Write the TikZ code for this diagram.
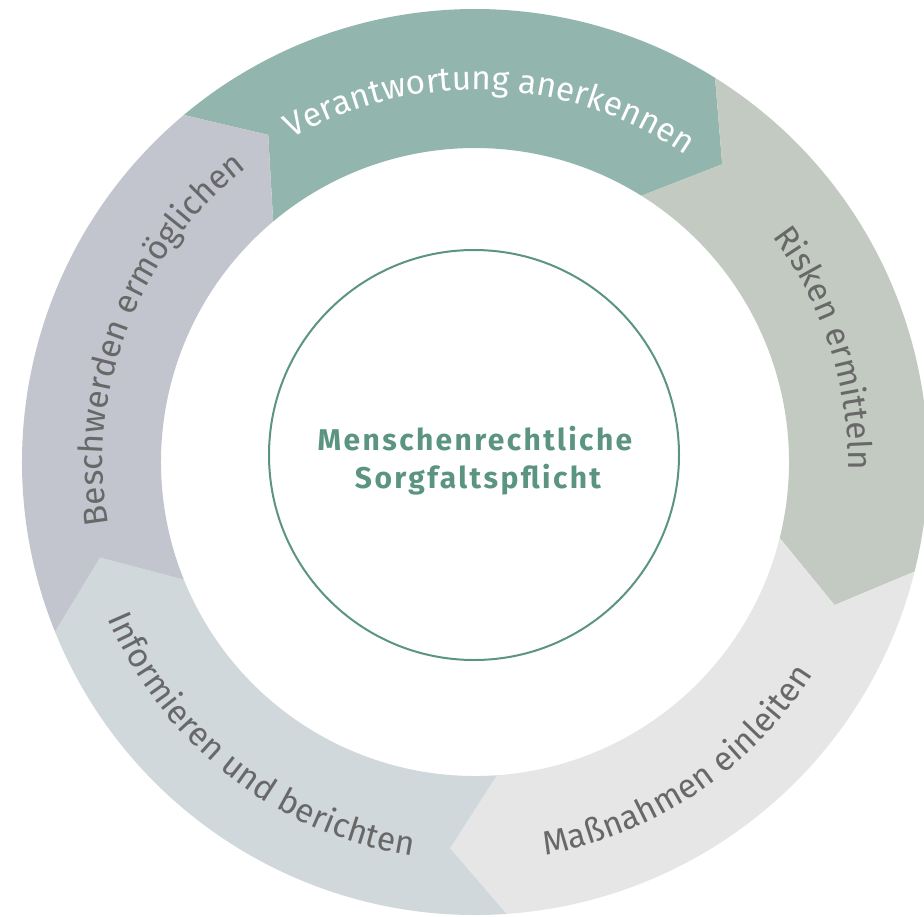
\documentclass[tikz,border=0pt]{standalone}
\usepackage{fontspec}
\setmainfont{Fira Sans}
\newfontfamily\titlefont{Fira Sans}[LetterSpace=8]
\usetikzlibrary{decorations.text}
\definecolor{segA}{HTML}{92B5AD}
\definecolor{segB}{HTML}{C3CAC2}
\definecolor{segC}{HTML}{E6E6E6}
\definecolor{segD}{HTML}{D0D8DC}
\definecolor{segE}{HTML}{C2C5CD}
\definecolor{tealc}{HTML}{5C9482}
\definecolor{ringtxt}{HTML}{686868}
\tikzset{
  ringlabel/.style 2 args={decorate, decoration={text along path, text align=center,
     text={|\fontsize{33.5}{40}\selectfont\color{#1}|#2}}},
  titletext/.style={text=tealc, font=\titlefont\bfseries\fontsize{30}{36}\selectfont, inner sep=0pt, anchor=base}
}
\begin{document}
\begin{tikzpicture}[x=1pt,y=1pt]
\useasboundingbox (0,0) rectangle (924,-916);
\clip (0,0) rectangle (924,-916);
\begin{scope}[shift={(475,-462)}]
  \foreach \a/\col in {130/segA,58/segB,-14/segC,-86/segD,-158/segE}
    \fill[\col] (\a:453) arc[start angle=\a, end angle=\a-72, radius=453]
      -- (\a-79.7:387) -- (\a-72:314)
      arc[start angle=\a-72, end angle=\a, radius=314]
      -- (\a-7.7:387) -- cycle;
  \path[ringlabel={white}{Verantwortung anerkennen}] (132.5:372) arc[start angle=132.5, end angle=42.5, radius=372];
  \path[ringlabel={ringtxt}{Risken ermitteln}] (63:373) arc[start angle=63, end angle=-27, radius=373];
  \path[ringlabel={ringtxt}{Maßnahmen einleiten}] (-101:399) arc[start angle=-101, end angle=-11, radius=399];
  \path[ringlabel={ringtxt}{Informieren und berichten}] (-173:399) arc[start angle=-173, end angle=-83, radius=399];
  \path[ringlabel={ringtxt}{Beschwerden ermöglichen}] (203.7:372) arc[start angle=203.7, end angle=113.7, radius=372];
\end{scope}
\node[circle, draw=tealc, line width=2pt, minimum size=410pt, inner sep=0pt] (core) at (474,-455) {};
\node[titletext] (line1) at (475,-450) {Menschenrechtliche};
\node[titletext] (line2) at (478,-488) {Sorgfaltspflicht};
\end{tikzpicture}
\end{document}
